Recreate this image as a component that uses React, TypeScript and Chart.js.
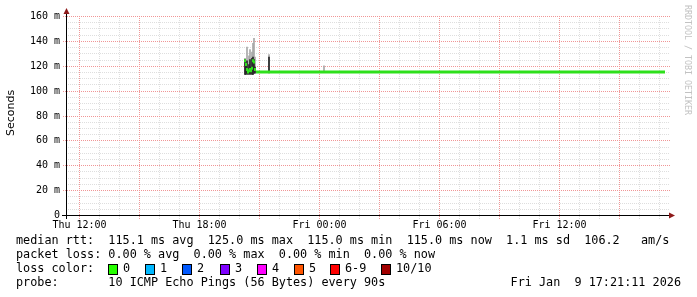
import React, { useEffect, useRef } from 'react';
import { Chart, registerables } from 'chart.js';

Chart.register(...registerables);

// ---- data (hours since Thu 11:21:11, values in ms) ----
const xTickHours = [0.65, 6.65, 12.65, 18.65, 24.65];
const xTickLabels = ['Thu 12:00', 'Thu 18:00', 'Fri 00:00', 'Fri 06:00', 'Fri 12:00'];
const yTickValues = [0, 20, 40, 60, 80, 100, 120, 140, 160];
const yTickLabels = ['0', '20 m', '40 m', '60 m', '80 m', '100 m', '120 m', '140 m', '160 m'];

const smokeHours = [8.95, 9.0, 9.05, 9.1, 9.15, 9.2, 9.25, 9.3, 9.35, 9.4, 9.45, 10.15, 12.9];
const smokeMinMs = [113, 113, 114, 113, 114, 113, 114, 113, 113, 114, 114, 114, 115];
const smokeMaxMs = [126, 122, 135, 120, 128, 133, 124, 131, 138, 142, 127, 129, 120];
const coreLowMs = [113, 113, 114, 113, 114, 113, 114, 113, 113, 114, 114, 115, null];
const coreHighMs = [125, 120, 124, 117, 121, 125, 119, 126, 127, 125, 119, 127, null];

// median of the unsettled start (one mark per step)
const startMedianHours = [8.95, 9.0, 9.05, 9.1, 9.15, 9.2, 9.25, 9.3, 9.35, 9.4, 9.45];
const startMedianMs = [124, 121, 117, 115, 116, 117, 116, 118, 124, 123, 117];
// steady median afterwards
const medianHours = [9.5, 29.95];
const medianMs = [115, 115];

const statsLines = [
  'median rtt:  115.1 ms avg  125.0 ms max  115.0 ms min  115.0 ms now  1.1 ms sd  106.2   am/s',
  'packet loss: 0.00 % avg  0.00 % max  0.00 % min  0.00 % now',
];
const lossTitle = 'loss color:';
const lossLabels = ['0', '1', '2', '3', '4', '5', '6-9', '10/10'];
const lossColors = ['#26ff00', '#00b8ff', '#0059ff', '#7e00ff', '#ff00ff', '#ff5500', '#ff0000', '#a10000'];
const probeText = 'probe:       10 ICMP Echo Pings (56 Bytes) every 90s';
const dateText = 'Fri Jan  9 17:21:11 2026';
const yTitle = 'Seconds';
const watermark = 'RRDTOOL / TOBI OETIKER';

const MONO = '"DejaVu Sans Mono", monospace';
const GREEN = '#2ee01c';

function dotH(ctx: CanvasRenderingContext2D, x1: number, x2: number, row: number) {
  for (let c = x1; c <= x2; c += 2) ctx.fillRect(c, row, 1, 1);
}
function dotV(ctx: CanvasRenderingContext2D, col: number, y1: number, y2: number) {
  for (let r = y1; r <= y2; r += 2) ctx.fillRect(col, r, 1, 1);
}

const rrdPlugin = {
  id: 'rrd',
  beforeDatasetsDraw(chart: any) {
    const { ctx, chartArea: a, scales } = chart;
    const x = scales.x;
    const y = scales.y;
    ctx.save();
    const minorC = 'rgb(222,222,222)';
    const majorC = 'rgb(240,150,150)';
    const L = Math.round(a.left);
    const R = Math.round(a.right) + 3;
    const T = Math.round(a.top);
    const B = Math.round(a.bottom) + 3;
    ctx.fillStyle = minorC;
    for (let v = 5; v < 160; v += 5) {
      if (v % 20 === 0) continue;
      dotH(ctx, L, R, Math.round(y.getPixelForValue(v)));
    }
    for (let k = 0; k < 30; k++) {
      if (k % 3 === 0) continue;
      const h = xTickHours[0] + k;
      if (h > 30) break;
      dotV(ctx, Math.round(x.getPixelForValue(h)), T, B);
    }
    ctx.fillStyle = majorC;
    for (const v of yTickValues) {
      if (v === 0) continue;
      dotH(ctx, L - 3, R, Math.round(y.getPixelForValue(v)));
    }
    for (let k = 0; k < 30; k += 3) {
      const h = xTickHours[0] + k;
      if (h > 30) break;
      dotV(ctx, Math.round(x.getPixelForValue(h)), T, B);
    }
    ctx.restore();
  },
  afterDatasetsDraw(chart: any) {
    const { ctx, chartArea: a, scales } = chart;
    const x = scales.x;
    const y = scales.y;
    ctx.save();
    ctx.setLineDash([]);
    ctx.lineWidth = 1;
    ctx.strokeStyle = '#000';
    const y0 = Math.round(y.getPixelForValue(0)) + 0.5;
    const x0 = Math.round(x.getPixelForValue(0)) + 0.5;
    ctx.beginPath();
    ctx.moveTo(a.left - 4, y0);
    ctx.lineTo(a.right + 4, y0);
    ctx.stroke();
    ctx.beginPath();
    ctx.moveTo(x0, a.bottom + 4);
    ctx.lineTo(x0, a.top - 3);
    ctx.stroke();
    ctx.fillStyle = '#8e1a1a';
    ctx.beginPath();
    ctx.moveTo(x0 - 3, a.top - 2);
    ctx.lineTo(x0 + 3, a.top - 2);
    ctx.lineTo(x0, a.top - 8);
    ctx.closePath();
    ctx.fill();
    ctx.beginPath();
    ctx.moveTo(a.right + 3, y0 - 3);
    ctx.lineTo(a.right + 3, y0 + 3);
    ctx.lineTo(a.right + 9, y0);
    ctx.closePath();
    ctx.fill();
    ctx.fillStyle = '#000';
    ctx.font = '10px ' + MONO;
    ctx.textAlign = 'right';
    ctx.textBaseline = 'middle';
    yTickValues.forEach((v, i) => {
      ctx.fillText(yTickLabels[i], a.left - 6, Math.round(y.getPixelForValue(v)) + 0.5);
    });
    ctx.textAlign = 'center';
    xTickHours.forEach((h, i) => {
      ctx.fillText(xTickLabels[i], Math.round(x.getPixelForValue(h)) + 0.5, a.bottom + 10);
    });
    ctx.save();
    ctx.translate(11, 113);
    ctx.rotate(-Math.PI / 2);
    ctx.font = '11px "DejaVu Sans", sans-serif';
    ctx.textAlign = 'center';
    ctx.textBaseline = 'middle';
    ctx.fillStyle = '#000';
    ctx.fillText(yTitle, 0, 0);
    ctx.restore();
    ctx.save();
    ctx.translate(687.5, 5);
    ctx.rotate(Math.PI / 2);
    ctx.font = '8.3px ' + MONO;
    ctx.textAlign = 'left';
    ctx.textBaseline = 'middle';
    ctx.fillStyle = '#c2c2c2';
    ctx.fillText(watermark, 0, 0);
    ctx.restore();
    ctx.restore();
  },
};

export default function App() {
  const ref = useRef<HTMLCanvasElement>(null);
  useEffect(() => {
    document.body.style.margin = '0';
    const chart = new Chart(ref.current as HTMLCanvasElement, {
      type: 'bar',
      data: {
        datasets: [
          {
            type: 'line',
            label: 'median rtt',
            data: medianHours.map((h, i) => ({ x: h, y: medianMs[i] })),
            borderColor: GREEN,
            borderWidth: 3,
            pointRadius: 0,
            fill: false,
            order: 0,
          } as any,
          {
            type: 'line',
            label: 'median rtt (start)',
            data: startMedianHours.map((h, i) => ({ x: h, y: startMedianMs[i] })),
            showLine: false,
            pointStyle: 'line',
            pointRadius: 1,
            pointBorderWidth: 3,
            pointBorderColor: GREEN,
            pointBackgroundColor: GREEN,
            borderColor: GREEN,
            order: 0,
          } as any,
          {
            type: 'bar',
            label: 'smoke core',
            data: smokeHours
              .map((h, i) => ({ x: h, y: coreLowMs[i] === null ? null : [coreLowMs[i], coreHighMs[i]] }))
              .filter((d) => d.y !== null),
            backgroundColor: '#262626',
            barThickness: 1,
            grouped: false,
            borderWidth: 0,
            order: 1,
          } as any,
          {
            type: 'bar',
            label: 'smoke',
            data: smokeHours.map((h, i) => ({ x: h, y: [smokeMinMs[i], smokeMaxMs[i]] })),
            backgroundColor: '#a8a8a8',
            barThickness: 1,
            grouped: false,
            borderWidth: 0,
            order: 2,
          } as any,
        ],
      },
      options: {
        animation: false,
        responsive: false,
        maintainAspectRatio: false,
        layout: { padding: { left: 66, top: 16, right: 31, bottom: 82 } },
        plugins: { legend: { display: false }, tooltip: { enabled: false } },
        scales: {
          x: { type: 'linear', min: 0, max: 30, display: false, offset: false, grid: { offset: false } },
          y: { type: 'linear', min: 0, max: 160, display: false },
        },
      } as any,
      plugins: [rrdPlugin as any],
    });
    return () => chart.destroy();
  }, []);

  const boxX = [108, 145, 182, 220, 257, 294, 330, 381];
  const textStyle: React.CSSProperties = {
    position: 'absolute',
    font: '11.8px ' + MONO,
    lineHeight: '14px',
    whiteSpace: 'pre',
    color: '#000',
  };

  return (
    <div style={{ position: 'fixed', left: 0, top: 0, width: 697, height: 297, background: '#fff', overflow: 'hidden' }}>
      <canvas ref={ref} width={697} height={297} style={{ display: 'block', position: 'absolute', left: 0, top: 0 }} />
      {statsLines.map((t, i) => (
        <div key={i} style={{ ...textStyle, left: 16, top: 233 + 14 * i }}>{t}</div>
      ))}
      <div style={{ ...textStyle, left: 16, top: 261 }}>{lossTitle}</div>
      {lossLabels.map((l, i) => (
        <React.Fragment key={l}>
          <div
            style={{
              position: 'absolute',
              left: boxX[i],
              top: 264,
              width: 8,
              height: 9,
              background: lossColors[i],
              border: '1px solid #000',
            }}
          />
          <div style={{ ...textStyle, left: boxX[i] + 15, top: 261 }}>{l}</div>
        </React.Fragment>
      ))}
      <div style={{ ...textStyle, left: 16, top: 275 }}>{probeText}</div>
      <div style={{ ...textStyle, right: 16, top: 275 }}>{dateText}</div>
    </div>
  );
}
